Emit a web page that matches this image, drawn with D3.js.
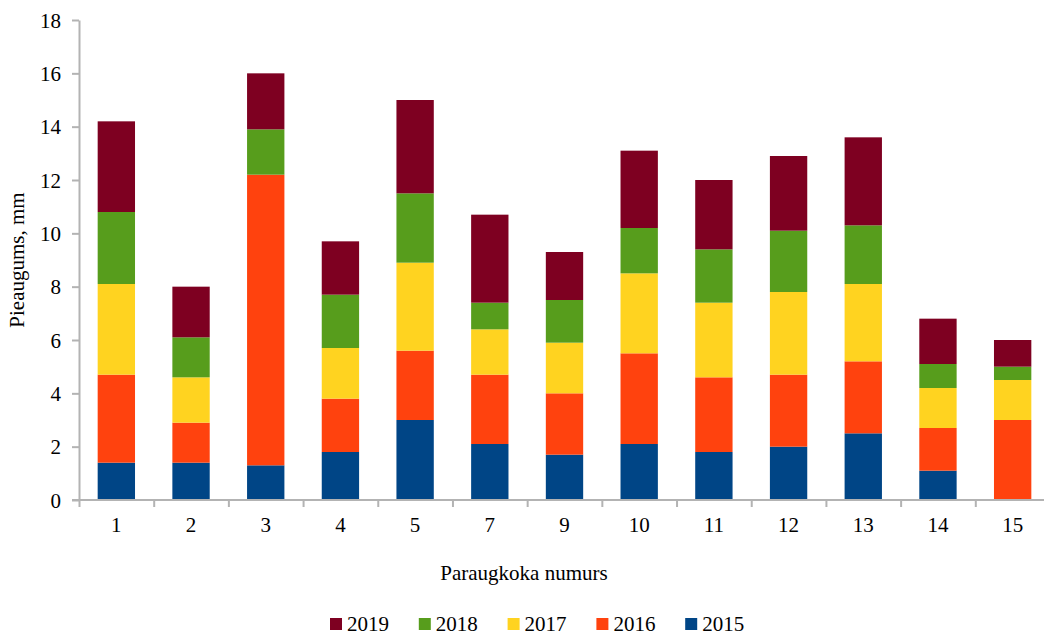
<!DOCTYPE html>
<html>
<head>
<meta charset="utf-8">
<script src="https://cdn.jsdelivr.net/npm/d3@7"></script>
<style>
	body { margin: 0; background: #fff; }
	svg { display: block; }
	svg text { font-family: 'Liberation Serif', 'Times New Roman', Times, Tinos, 'Noto Serif', 'DejaVu Serif', FreeSerif, serif !important; fill: #000; }
	.axis path, .axis line { stroke: #b3b3b3; stroke-width: 2; }
	.axis text { font-size: 21px; }
</style>
</head>
<body>
<svg id="chart" width="1044" height="636"></svg>
<script>
// tree numbers on the x axis
const trees = ["1", "2", "3", "4", "5", "7", "9", "10", "11", "12", "13", "14", "15"];
const years = ["2015", "2016", "2017", "2018", "2019"];
// yearly increment, mm
const y2015 = [1.4, 1.4, 1.3, 1.8, 3.0, 2.1, 1.7, 2.1, 1.8, 2.0, 2.5, 1.1, 0.0];
const y2016 = [3.3, 1.5, 10.9, 2.0, 2.6, 2.6, 2.3, 3.4, 2.8, 2.7, 2.7, 1.6, 3.0];
const y2017 = [3.4, 1.7, 0.0, 1.9, 3.3, 1.7, 1.9, 3.0, 2.8, 3.1, 2.9, 1.5, 1.5];
const y2018 = [2.7, 1.5, 1.7, 2.0, 2.6, 1.0, 1.6, 1.7, 2.0, 2.3, 2.2, 0.9, 0.5];
const y2019 = [3.4, 1.9, 2.1, 2.0, 3.5, 3.3, 1.8, 2.9, 2.6, 2.8, 3.3, 1.7, 1.0];
const yTicks = [0, 2, 4, 6, 8, 10, 12, 14, 16, 18];
const colors = {"2015": "#004586", "2016": "#ff420e", "2017": "#ffd320", "2018": "#579d1c", "2019": "#7e0021"};

const svg = d3.select("#chart");
const plotLeft = 79, plotRight = 1050, plotTop = 20, plotBottom = 500;

const rows = trees.map(function(t, i){
	return {tree: t, "2015": y2015[i], "2016": y2016[i], "2017": y2017[i], "2018": y2018[i], "2019": y2019[i]};
});
const stacked = d3.stack().keys(years)(rows);

const xScale = d3.scaleBand().domain(trees)
	.range([plotLeft, plotRight])
	.paddingInner(0.5)
	.paddingOuter(0.25);
const yScale = d3.scaleLinear().domain([0, 18]).range([plotBottom, plotTop]);
// category boundaries for the tick marks
const edgeScale = d3.scaleLinear().domain([0, trees.length]).range([plotLeft, plotRight]);

//bars
svg.append("g").selectAll("g").data(stacked).enter().append("g")
	.attr("fill", function(d){ return colors[d.key]; })
	.selectAll("rect").data(function(d){ return d; }).enter().append("rect")
	.attr("x", function(d){ return xScale(d.data.tree); })
	.attr("y", function(d){ return yScale(d[1]); })
	.attr("width", xScale.bandwidth())
	.attr("height", function(d){ return yScale(d[0]) - yScale(d[1]); });

//y axis
const yAxis = svg.append("g").attr("class", "axis")
	.attr("transform", "translate(" + [plotLeft, 0] + ")")
	.call(d3.axisLeft(yScale).tickValues(yTicks).tickSize(7).tickPadding(11).tickSizeOuter(0));
yAxis.selectAll("text").attr("dy", "0.34em");

//x axis: boundary ticks
svg.append("g").attr("class", "axis")
	.attr("transform", "translate(" + [0, plotBottom] + ")")
	.call(d3.axisBottom(edgeScale).ticks(trees.length).tickSize(7).tickSizeOuter(0).tickFormat(""))
	.select(".domain").attr("d", "M" + (plotLeft - 7) + ",0H" + 1044);

//x axis: labels
svg.append("g").attr("class", "axis")
	.attr("transform", "translate(" + [0, plotBottom] + ")")
	.call(d3.axisBottom(xScale).tickSize(0).tickPadding(17))
	.call(function(g){ g.select(".domain").remove(); });

//titles
svg.append("text")
	.attr("x", 524).attr("y", 580)
	.attr("text-anchor", "middle")
	.attr("font-size", 21)
	.text("Paraugkoka numurs");
svg.append("text")
	.attr("transform", "translate(24,260) rotate(-90)")
	.attr("text-anchor", "middle")
	.attr("font-size", 21)
	.text("Pieaugums, mm");

//legend
const legendKeys = years.slice().reverse();
const legend = svg.append("g").selectAll("g").data(legendKeys).enter().append("g")
	.attr("transform", function(d, i){ return "translate(" + (330 + i * 88.8) + ",618)"; });
legend.append("rect")
	.attr("x", 0).attr("y", 0).attr("width", 12).attr("height", 12)
	.attr("fill", function(d){ return colors[d]; });
legend.append("text")
	.attr("x", 17).attr("y", 13)
	.attr("font-size", 21)
	.text(function(d){ return d; });
</script>
</body>
</html>
